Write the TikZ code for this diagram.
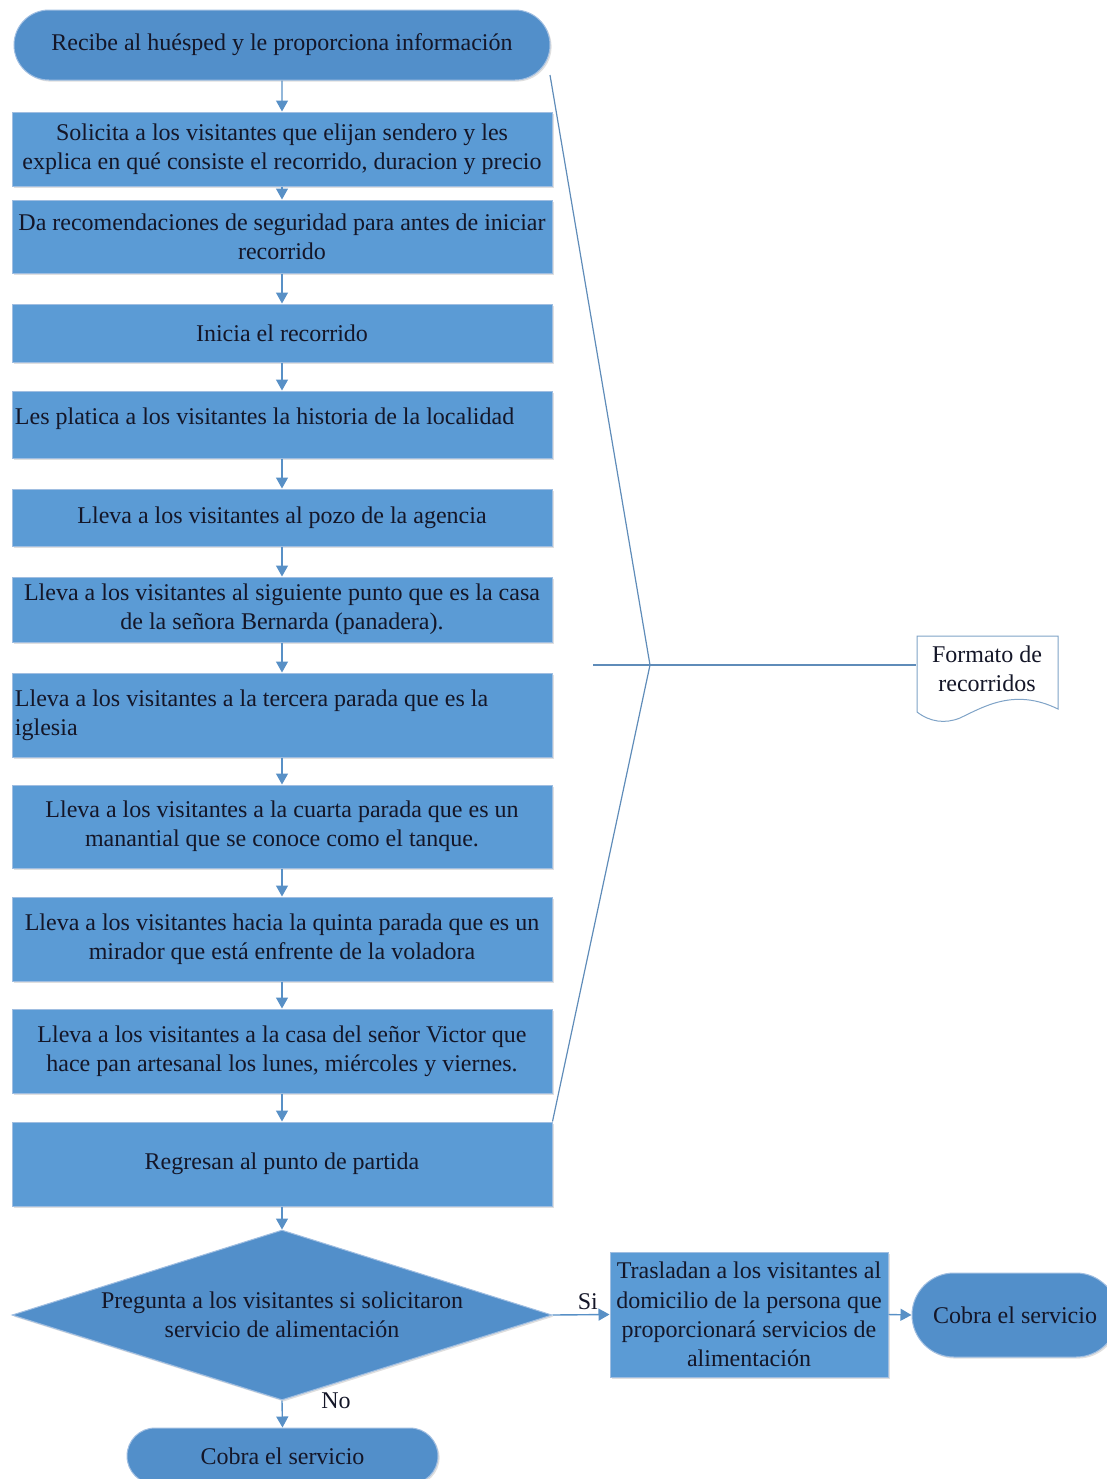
\documentclass[tikz,border=0pt]{standalone}
\usepackage{fontspec}
\setmainfont{Liberation Serif}
\usetikzlibrary{shapes.geometric,shapes.misc,arrows.meta,shadows}
\definecolor{boxblue}{RGB}{91,155,213}
\definecolor{termblue}{RGB}{82,143,202}
\definecolor{boxedge}{RGB}{160,190,225}
\definecolor{arrc}{RGB}{88,144,198}
\definecolor{brkc}{RGB}{95,140,185}
\definecolor{txtc}{RGB}{20,22,40}
\begin{document}
\begin{tikzpicture}[x=0.5pt,y=-0.5pt,
  font=\fontsize{12}{14.6}\selectfont,
  shad/.style={drop shadow={opacity=0.25,shadow xshift=0.8pt,shadow yshift=-0.8pt}},
  stepbox/.style={rectangle,fill=boxblue,draw=boxedge,line width=0.5pt,minimum width=270pt,text=txtc,align=center,inner sep=1pt,shad},
  leftbox/.style={stepbox,align=flush left,text width=267pt},
  term/.style={rounded rectangle,fill=termblue,draw=boxedge,line width=0.5pt,text=txtc,align=center,inner sep=1pt,shad},
  decision/.style={diamond,fill=termblue,draw=boxedge,line width=0.5pt,text=txtc,align=center,inner sep=0pt,minimum width=270pt,minimum height=85pt,aspect=3.18,shad},
  arr/.style={draw=arrc,line width=0.7pt,-{Triangle[width=6pt,length=5.5pt]}},
  brk/.style={draw=brkc,line width=0.6pt},
  lbl/.style={text=txtc,inner sep=1pt}]
\useasboundingbox (0,0) rectangle (1107,1479);
\node[term,minimum width=270pt,minimum height=35pt] (t0) at (282,45) {Recibe al huésped y le proporciona información};
\node[stepbox,minimum height=37pt] (b1) at (282,149) {Solicita a los visitantes que elijan sendero y les\\explica en qué consiste el recorrido, duracion y precio};
\node[stepbox,minimum height=36.5pt] (b2) at (282,236.5) {Da recomendaciones de seguridad para antes de iniciar\\recorrido};
\node[stepbox,minimum height=29pt] (b3) at (282,333) {Inicia el recorrido};
\node[leftbox,minimum height=33.5pt] (b4) at (282,424.5) {Les platica a los visitantes la historia de la localidad\\[-6pt]\mbox{}};
\node[stepbox,minimum height=28.5pt] (b5) at (282,517.5) {Lleva a los visitantes al pozo de la agencia};
\node[stepbox,minimum height=32.5pt] (b6) at (282,609.5) {Lleva a los visitantes al siguiente punto que es la casa\\de la señora Bernarda (panadera).};
\node[leftbox,minimum height=42pt] (b7) at (282,715) {Lleva a los visitantes a la tercera parada que es la\\iglesia};
\node[stepbox,minimum height=41.5pt] (b8) at (282,826.5) {Lleva a los visitantes a la cuarta parada que es un\\manantial que se conoce como el tanque.};
\node[stepbox,minimum height=42pt] (b9) at (282,939) {Lleva a los visitantes hacia la quinta parada que es un\\mirador que está enfrente de la voladora};
\node[stepbox,minimum height=42pt] (b10) at (282,1051) {Lleva a los visitantes a la casa del señor Victor que\\hace pan artesanal los lunes, miércoles y viernes.};
\node[stepbox,minimum height=42pt] (b11) at (282,1164) {Regresan al punto de partida};
\node[decision] (dec) at (282,1315) {Pregunta a los visitantes si solicitaron\\servicio de alimentación};
\node[term,minimum width=157.5pt,minimum height=28pt] (tend) at (282.5,1456) {Cobra el servicio};
\node[stepbox,minimum width=139pt,minimum height=62.5pt] (rb) at (749,1314.5) {Trasladan a los visitantes al\\domicilio de la persona que\\proporcionará servicios de\\alimentación};
\node[term,minimum width=105pt,minimum height=42pt] (tr) at (1015,1315) {Cobra el servicio};
% document
\draw[draw=brkc!80,fill=white,line width=0.5pt] (917,636) -- (1058,636) -- (1058,709)
  .. controls (1015,688) and (985,706) .. (960,718)
  .. controls (945,724) and (930,722) .. (917,712) -- cycle;
\node[text=txtc,align=center,inner sep=0pt,minimum width=70.5pt] (doc) at (987,669) {Formato de\\recorridos};
% arrows
\draw[arr] (t0) -- (b1);
\draw[arr] (b1) -- (b2);
\draw[arr] (b2) -- (b3);
\draw[arr] (b3) -- (b4);
\draw[arr] (b4) -- (b5);
\draw[arr] (b5) -- (b6);
\draw[arr] (b6) -- (b7);
\draw[arr] (b7) -- (b8);
\draw[arr] (b8) -- (b9);
\draw[arr] (b9) -- (b10);
\draw[arr] (b10) -- (b11);
\draw[arr] (b11) -- (dec);
\draw[arr] (dec.east) -- node[lbl,pos=0.62,above,yshift=1pt] {Si} (rb.west);
\draw[arr] (dec.south) -- node[lbl,at start,xshift=27pt] {No} (tend.north);
\draw[arr] (rb.east) -- (tr.west);
% bracket
\coordinate (c0) at (550,75);
\coordinate (apex) at (650,665);
\coordinate (hs) at (593,665);
\draw[brk] (c0) -- (apex) -- (b11.north east);
\draw[brk] (hs) -- (hs -| doc.west);
\end{tikzpicture}
\end{document}
